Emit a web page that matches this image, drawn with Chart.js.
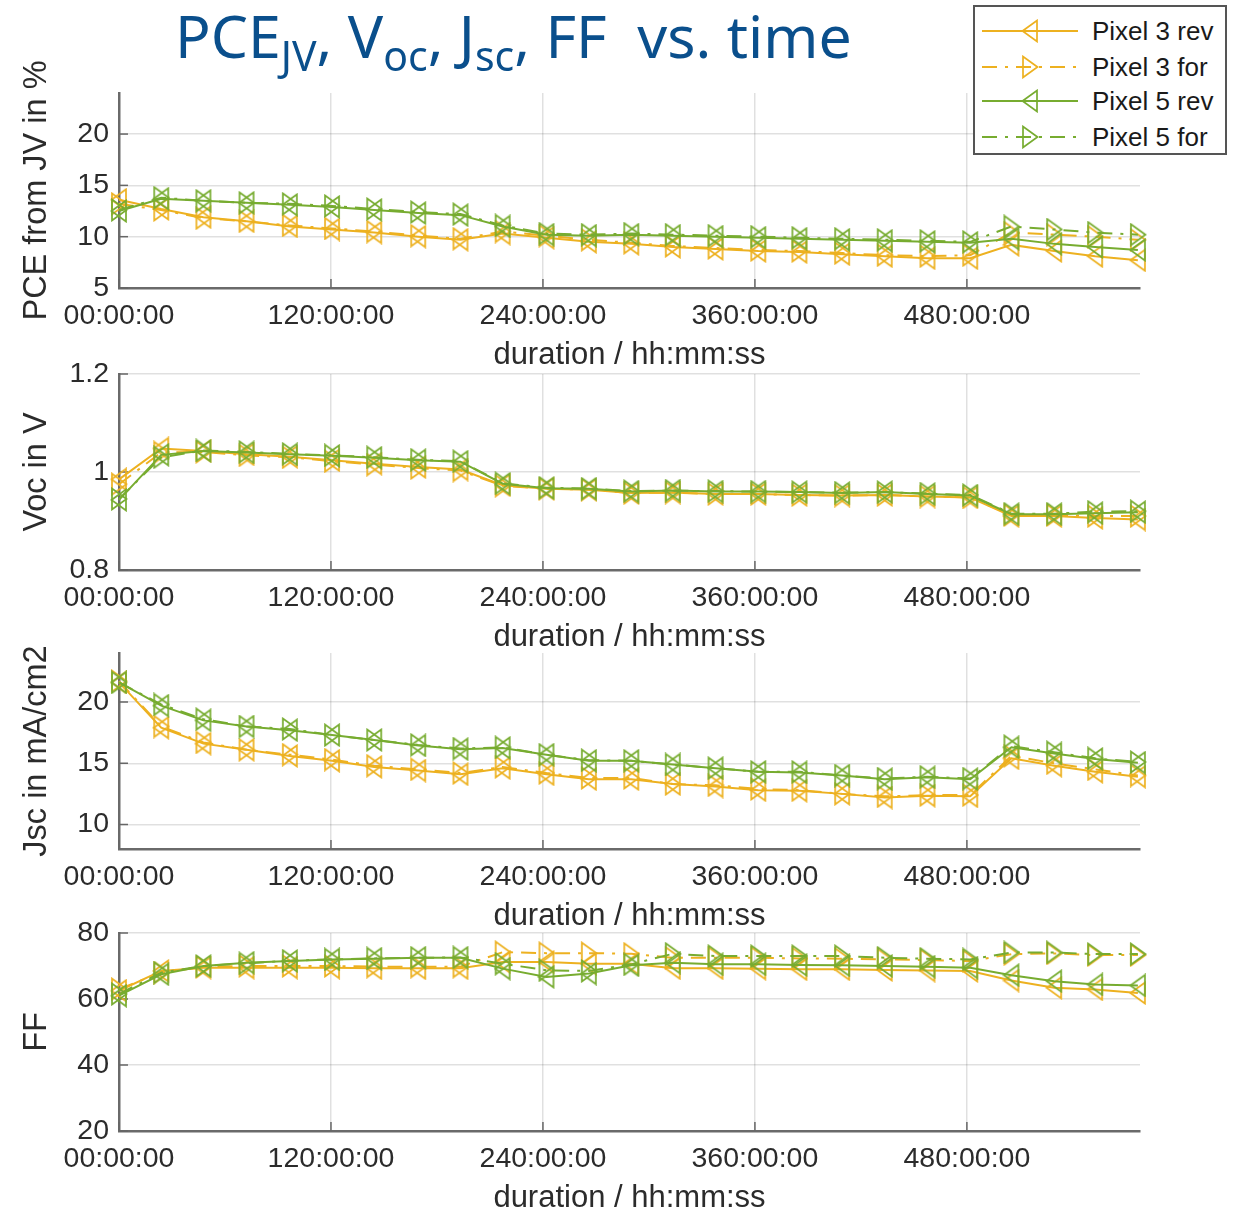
<!DOCTYPE html>
<html><head><meta charset="utf-8">
<script src="https://cdn.jsdelivr.net/npm/chart.js@4.4.0/dist/chart.umd.min.js"></script>
<style>
html,body{margin:0;padding:0;background:#fff;overflow:hidden;width:1236px;height:1214px;position:relative;}
canvas.panel{position:absolute;left:0;}
#title{position:absolute;left:175px;top:0px;font-family:"Noto Sans";font-size:59px;color:#0a4f8c;white-space:nowrap;line-height:70px;z-index:5;}
#title sub{font-size:41px;vertical-align:-13px;line-height:0;}
#legend{position:absolute;left:973px;top:5px;width:254px;height:150px;box-sizing:border-box;border:2px solid #555;background:#fff;z-index:6;}
#legend .row{position:absolute;left:0;height:30px;width:250px;}
#legend canvas{position:absolute;left:3px;top:0;}
#legend span{position:absolute;left:117px;top:0;line-height:30px;font-family:"Liberation Sans";font-size:26px;color:#1a1a1a;white-space:nowrap;}
</style></head>
<body>
<div id="title">PCE<sub>JV</sub>, V<sub>oc</sub>, J<sub>sc</sub>, FF&nbsp; vs. time</div>
<div id="legend"></div>
<script>
// ---------------- data ----------------
const times = [0, 23.9, 47.8, 72.2, 96.7, 120.6, 144.5, 169.4, 193.3, 217.2, 242.0, 266.0, 290.0, 313.5, 337.7, 361.9, 385.2, 409.4, 433.5, 457.7, 481.9, 505.2, 529.4, 552.6, 576.8];
const seriesNames = ['Pixel 3 rev', 'Pixel 3 for', 'Pixel 5 rev', 'Pixel 5 for'];
const xTickValues = [0, 120, 240, 360, 480];
const xTickLabels = ['00:00:00', '120:00:00', '240:00:00', '360:00:00', '480:00:00'];
const xLabel = 'duration / hh:mm:ss';

const pce3rev = [13.6, 12.7, 11.9, 11.5, 11.0, 10.7, 10.4, 10.0, 9.7, 10.3, 9.9, 9.5, 9.3, 9.0, 8.8, 8.6, 8.5, 8.3, 8.1, 7.9, 7.9, 9.2, 8.6, 8.1, 7.7];
const pce3for = [13.2, 12.6, 11.8, 11.5, 11.1, 10.8, 10.5, 10.1, 9.8, 10.5, 10.1, 9.7, 9.4, 9.1, 8.9, 8.7, 8.6, 8.4, 8.2, 8.1, 8.2, 10.4, 10.2, 10.0, 9.7];
const pce5rev = [12.5, 13.7, 13.5, 13.3, 13.1, 12.9, 12.6, 12.3, 12.1, 11.0, 10.2, 10.1, 10.2, 10.1, 10.0, 9.9, 9.8, 9.7, 9.6, 9.5, 9.4, 9.8, 9.3, 9.0, 8.7];
const pce5for = [12.6, 13.8, 13.5, 13.3, 13.2, 13.0, 12.7, 12.4, 12.2, 11.1, 10.3, 10.2, 10.3, 10.2, 10.1, 10.0, 9.9, 9.8, 9.7, 9.6, 9.5, 11.0, 10.7, 10.4, 10.2];

const voc3rev = [0.985, 1.048, 1.043, 1.036, 1.031, 1.024, 1.017, 1.010, 1.005, 0.973, 0.966, 0.964, 0.957, 0.958, 0.955, 0.955, 0.953, 0.952, 0.953, 0.950, 0.948, 0.910, 0.910, 0.906, 0.903];
const voc3for = [0.975, 1.040, 1.041, 1.034, 1.030, 1.022, 1.015, 1.008, 1.003, 0.972, 0.966, 0.964, 0.957, 0.958, 0.955, 0.955, 0.953, 0.952, 0.953, 0.950, 0.948, 0.912, 0.912, 0.910, 0.910];
const voc5rev = [0.943, 1.035, 1.043, 1.040, 1.036, 1.033, 1.029, 1.024, 1.021, 0.976, 0.967, 0.966, 0.960, 0.962, 0.960, 0.960, 0.959, 0.957, 0.959, 0.955, 0.952, 0.914, 0.914, 0.916, 0.918];
const voc5for = [0.945, 1.030, 1.044, 1.041, 1.037, 1.034, 1.030, 1.025, 1.022, 0.977, 0.968, 0.966, 0.961, 0.962, 0.961, 0.960, 0.959, 0.958, 0.959, 0.956, 0.953, 0.915, 0.915, 0.919, 0.920];

const jsc3rev = [21.6, 17.9, 16.6, 16.1, 15.6, 15.2, 14.7, 14.4, 14.1, 14.6, 14.1, 13.7, 13.7, 13.3, 13.1, 12.8, 12.75, 12.5, 12.2, 12.35, 12.3, 15.4, 14.8, 14.3, 13.9];
const jsc3for = [21.7, 18.0, 16.7, 16.1, 15.7, 15.3, 14.8, 14.5, 14.2, 14.7, 14.2, 13.8, 13.8, 13.3, 13.2, 12.9, 12.8, 12.5, 12.3, 12.4, 12.4, 15.6, 15.0, 14.5, 14.0];
const jsc5rev = [21.6, 19.7, 18.5, 18.0, 17.7, 17.3, 16.9, 16.45, 16.15, 16.25, 15.7, 15.2, 15.2, 14.9, 14.6, 14.3, 14.25, 14.0, 13.7, 13.85, 13.7, 16.3, 15.8, 15.35, 15.05];
const jsc5for = [21.6, 19.8, 18.6, 18.0, 17.8, 17.3, 16.9, 16.5, 16.2, 16.3, 15.7, 15.25, 15.2, 14.9, 14.6, 14.3, 14.3, 14.0, 13.75, 13.9, 13.75, 16.4, 15.9, 15.4, 15.1];

const ff3rev = [62.5, 68.5, 69.5, 69.5, 69.5, 69.5, 69.3, 69.3, 69.3, 71.2, 71.2, 70.7, 70.7, 69.3, 69.3, 69.2, 69.0, 69.0, 68.8, 68.6, 68.5, 65.6, 63.4, 62.9, 61.8];
const ff3for = [63.0, 68.0, 69.7, 70.0, 70.0, 70.0, 69.8, 69.8, 69.8, 74.2, 73.9, 73.9, 73.7, 72.5, 72.5, 72.5, 72.3, 72.2, 72.0, 71.8, 71.5, 73.6, 73.8, 73.3, 73.3];
const ff5rev = [61.0, 67.5, 70.0, 71.0, 71.5, 72.0, 72.2, 72.5, 72.5, 69.2, 66.7, 67.7, 70.2, 71.0, 70.5, 70.5, 70.3, 70.2, 70.0, 69.8, 69.5, 67.2, 65.4, 64.4, 64.1];
const ff5for = [61.5, 68.0, 70.0, 70.8, 71.6, 72.0, 72.3, 72.5, 72.6, 70.7, 68.7, 68.5, 70.5, 73.7, 73.0, 73.0, 73.0, 73.0, 72.5, 72.2, 72.0, 74.1, 74.1, 73.6, 73.6];

const pceTicks = [5, 10, 15, 20];
const vocTicks = [0.8, 1, 1.2];
const jscTicks = [10, 15, 20];
const ffTicks = [20, 40, 60, 80];
const pceTickLabels = ['5', '10', '15', '20'];
const vocTickLabels = ['0.8', '1', '1.2'];
const jscTickLabels = ['10', '15', '20'];
const ffTickLabels = ['20', '40', '60', '80'];

// ---------------- style ----------------
const ORANGE = '#EDB120', GREEN = '#77AC30';
const seriesColors = [ORANGE, ORANGE, GREEN, GREEN];
const seriesDir = ['left', 'right', 'left', 'right'];
const seriesDash = [false, true, false, true];
const DASH = [15, 8, 3, 8];
const TXT = '#2b2b2b';

function markerImg(color, dir) {
  const w = 18, h = 24, c = document.createElement('canvas');
  c.width = w; c.height = h;
  const g = c.getContext('2d');
  g.strokeStyle = color; g.lineWidth = 1.7; g.lineJoin = 'miter';
  g.beginPath();
  if (dir === 'left') { g.moveTo(1.5, h / 2); g.lineTo(w - 2, 1.5); g.lineTo(w - 2, h - 1.5); }
  else { g.moveTo(w - 1.5, h / 2); g.lineTo(2, 1.5); g.lineTo(2, h - 1.5); }
  g.closePath(); g.stroke();
  return c;
}

const inwardTicks = {
  id: 'inwardTicks',
  beforeDatasetsDraw(chart) {
    const {ctx, chartArea: a, scales: {x, y}} = chart;
    ctx.save(); ctx.strokeStyle = '#666'; ctx.lineWidth = 1.5;
    x.ticks.forEach(t => { const px = x.getPixelForValue(t.value); ctx.beginPath(); ctx.moveTo(px, a.bottom); ctx.lineTo(px, a.bottom - 9); ctx.stroke(); });
    y.ticks.forEach(t => { const py = y.getPixelForValue(t.value); ctx.beginPath(); ctx.moveTo(a.left, py); ctx.lineTo(a.left + 9, py); ctx.stroke(); });
    ctx.restore();
  }
};

const panels = [
  {top: 93, bottom: 288, min: 5, max: 24, ticks: pceTicks, labels: pceTickLabels, title: 'PCE from JV in %', data: [pce3rev, pce3for, pce5rev, pce5for]},
  {top: 374, bottom: 570, min: 0.8, max: 1.2, ticks: vocTicks, labels: vocTickLabels, title: 'Voc in V', data: [voc3rev, voc3for, voc5rev, voc5for]},
  {top: 653, bottom: 849, min: 8, max: 24, ticks: jscTicks, labels: jscTickLabels, title: 'Jsc in mA/cm2', data: [jsc3rev, jsc3for, jsc5rev, jsc5for]},
  {top: 933, bottom: 1131, min: 20, max: 80, ticks: ffTicks, labels: ffTickLabels, title: 'FF', data: [ff3rev, ff3for, ff5rev, ff5for]}
];

const PADTOP = 53, XH = 86, YW = 119, RIGHT = 1140, W = 1236;

panels.forEach((p, pi) => {
  const cv = document.createElement('canvas');
  cv.className = 'panel';
  const H = PADTOP + (p.bottom - p.top) + XH;
  cv.width = W; cv.height = H;
  cv.style.width = W + 'px'; cv.style.height = H + 'px';
  cv.style.top = (p.top - PADTOP) + 'px';
  cv.style.zIndex = 1 + pi;
  document.body.appendChild(cv);

  // reversed so that Pixel 5 for is drawn on top (as in the original)
  const datasets = [3, 2, 1, 0].map(k => ({
    label: seriesNames[k],
    data: times.map((t, i) => ({x: t, y: p.data[k][i]})),
    borderColor: seriesColors[k],
    backgroundColor: 'transparent',
    borderWidth: 2,
    borderDash: seriesDash[k] ? DASH : [],
    pointStyle: markerImg(seriesColors[k], seriesDir[k]),
    pointRadius: 10, pointHoverRadius: 10,
    tension: 0, fill: false, clip: false
  }));

  new Chart(cv, {
    type: 'line',
    data: {datasets},
    plugins: [inwardTicks],
    options: {
      responsive: false, animation: false, events: [],
      layout: {padding: {top: PADTOP, right: W - RIGHT, left: 0, bottom: 0}},
      plugins: {legend: {display: false}, tooltip: {enabled: false}},
      scales: {
        x: {
          type: 'linear', min: 0, max: 578,
          afterBuildTicks: s => { s.ticks = xTickValues.map(v => ({value: v})); },
          afterFit: s => { s.height = XH; },
          ticks: {callback: v => xTickLabels[xTickValues.indexOf(v)], font: {family: 'Liberation Sans', size: 28.5}, color: TXT, padding: 11, maxRotation: 0, autoSkip: false},
          grid: {color: 'rgba(0,0,0,0.12)', lineWidth: 1.5, drawTicks: false},
          border: {display: true, color: '#6a6a6a', width: 2.5},
          title: {display: true, text: xLabel, font: {family: 'Liberation Sans', size: 31}, color: TXT, padding: {top: 0, bottom: 0}}
        },
        y: {
          type: 'linear', min: p.min, max: p.max,
          afterBuildTicks: s => { s.ticks = p.ticks.map(v => ({value: v})); },
          afterFit: s => { s.width = YW; },
          ticks: {callback: v => p.labels[p.ticks.indexOf(v)], font: {family: 'Liberation Sans', size: 28.5}, color: TXT, padding: 10},
          grid: {color: 'rgba(0,0,0,0.12)', lineWidth: 1.5, drawTicks: false},
          border: {display: true, color: '#6a6a6a', width: 2.5},
          title: {display: true, text: p.title, font: {family: 'Liberation Sans', size: 32.5}, color: TXT, padding: {top: 18, bottom: 0}}
        }
      }
    }
  });
});

// ---------------- legend ----------------
const legend = document.getElementById('legend');
const rowCenters = [24, 60, 94, 130];
seriesNames.forEach((name, k) => {
  const row = document.createElement('div');
  row.className = 'row';
  row.style.top = (rowCenters[k] - 15) + 'px';
  const c = document.createElement('canvas');
  c.width = 104; c.height = 30;
  const g = c.getContext('2d');
  g.strokeStyle = seriesColors[k]; g.lineWidth = 2;
  g.setLineDash(seriesDash[k] ? DASH : []);
  g.beginPath(); g.moveTo(4, 15); g.lineTo(100, 15); g.stroke();
  g.setLineDash([]);
  const m = markerImg(seriesColors[k], seriesDir[k]);
  g.drawImage(m, 52 - m.width / 2, 15 - m.height / 2);
  row.appendChild(c);
  const s = document.createElement('span');
  s.textContent = name;
  row.appendChild(s);
  legend.appendChild(row);
});
</script>
</body></html>
